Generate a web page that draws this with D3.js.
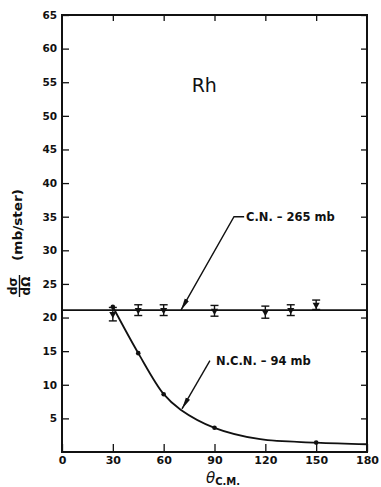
<!DOCTYPE html>
<html>
<head>
<meta charset="utf-8">
<script src="https://cdn.jsdelivr.net/npm/d3@7"></script>
<style>
  html, body { margin: 0; padding: 0; background: #fff; }
  svg { display: block; }
  .tick text { font-family: "DejaVu Sans", sans-serif; font-weight: bold; fill: #111; }
</style>
</head>
<body>
<svg id="chart" width="381" height="487"></svg>
<script>
// Angular distribution for Rh: compound-nucleus (C.N.) level and non-compound (N.C.N.) falloff
const xTicks = [0, 30, 60, 90, 120, 150, 180];
const yTicks = [5, 10, 15, 20, 25, 30, 35, 40, 45, 50, 55, 60, 65];

const cnAngles = [30, 45, 60, 90, 120, 135, 150];
const cnValues = [20.5, 21.1, 21.1, 21.0, 20.8, 21.1, 21.9];
const cnErrors = [1.0, 0.8, 0.8, 0.8, 0.9, 0.8, 0.7];
const cnLevel = 21.1;

const ncnAngles = [30, 45, 60, 90, 150];
const ncnValues = [21.6, 14.7, 8.6, 3.6, 1.4];

const ncnCurveAngles = [30, 45, 60, 70, 90, 117, 150, 180];
const ncnCurveValues = [21.6, 14.7, 8.6, 6.3, 3.6, 1.9, 1.4, 1.15];

const ink = "#111";
const svg = d3.select("#chart");
const margin = { left: 62, right: 14, top: 15, bottom: 35 };
const W = 381, H = 487;

const x = d3.scaleLinear().domain([0, 180]).range([margin.left, W - margin.right]);
const y = d3.scaleLinear().domain([0, 65]).range([H - margin.bottom, margin.top]);

// Axes with inward ticks
const gL = svg.append("g").attr("transform", `translate(${x(0)},0)`)
  .call(d3.axisLeft(y).tickValues(yTicks).tickSize(-7).tickPadding(5).tickFormat(d3.format("d")));
const gR = svg.append("g").attr("transform", `translate(${x(180)},0)`)
  .call(d3.axisRight(y).tickValues(yTicks).tickSize(-6).tickFormat(""));
const gB = svg.append("g").attr("transform", `translate(0,${y(0)})`)
  .call(d3.axisBottom(x).tickValues(xTicks).tickSize(-8).tickPadding(4).tickFormat(d3.format("d")));
const gT = svg.append("g").attr("transform", `translate(0,${y(65)})`)
  .call(d3.axisTop(x).tickValues(xTicks.slice(1, -1)).tickSize(-6).tickFormat(""));

[gL, gR, gB, gT].forEach(g => {
  g.select(".domain").remove();
  g.selectAll(".tick line").attr("stroke", ink).attr("stroke-width", 1.3);
});
gL.selectAll(".tick text").attr("font-size", 10.5);
gB.selectAll(".tick text").attr("font-size", 11).attr("font-weight", "normal");

// Frame
svg.append("rect")
  .attr("x", x(0)).attr("y", y(65))
  .attr("width", x(180) - x(0)).attr("height", y(0) - y(65))
  .attr("fill", "none").attr("stroke", ink).attr("stroke-width", 2);

// C.N. level
svg.append("line")
  .attr("x1", x(0)).attr("x2", x(180))
  .attr("y1", y(cnLevel)).attr("y2", y(cnLevel))
  .attr("stroke", ink).attr("stroke-width", 1.8);

// N.C.N. curve
const curvePts = ncnCurveAngles.map((a, i) => [a, ncnCurveValues[i]]);
svg.append("path")
  .attr("d", d3.line().x(d => x(d[0])).y(d => y(d[1])).curve(d3.curveCatmullRom.alpha(0.5))(curvePts))
  .attr("fill", "none").attr("stroke", ink).attr("stroke-width", 1.8);

// C.N. points with error bars
const cn = cnAngles.map((a, i) => ({ a, v: cnValues[i], e: cnErrors[i] }));
const eb = svg.append("g").attr("stroke", ink).attr("stroke-width", 1.4);
cn.forEach(d => {
  eb.append("line").attr("x1", x(d.a)).attr("x2", x(d.a))
    .attr("y1", y(d.v + d.e)).attr("y2", y(d.v - d.e));
  [d.v + d.e, d.v - d.e].forEach(v => {
    eb.append("line").attr("x1", x(d.a) - 4).attr("x2", x(d.a) + 4)
      .attr("y1", y(v)).attr("y2", y(v));
  });
});
svg.append("g").selectAll("path").data(cn).join("path")
  .attr("d", d3.symbol(d3.symbolTriangle, 22))
  .attr("transform", d => `translate(${x(d.a)},${y(d.v)}) rotate(180)`)
  .attr("fill", ink);

// N.C.N. points
svg.append("g").selectAll("circle").data(ncnAngles.map((a, i) => ({ a, v: ncnValues[i] })))
  .join("circle")
  .attr("cx", d => x(d.a)).attr("cy", d => y(d.v)).attr("r", 2.3)
  .attr("fill", ink);

// Arrowhead
svg.append("defs").append("marker")
  .attr("id", "arrow").attr("viewBox", "0 0 12 6").attr("refX", 12).attr("refY", 3)
  .attr("markerWidth", 12).attr("markerHeight", 6).attr("markerUnits", "userSpaceOnUse")
  .attr("orient", "auto")
  .append("path").attr("d", "M0,0.6 L12,3 L0,5.4 Z").attr("fill", ink);

// Annotations
const labelFont = "'DejaVu Sans', sans-serif";
svg.append("path")
  .attr("d", d3.line()([[x(107.5), y(35)], [x(101.5), y(35)], [x(70.2), y(cnLevel)]]))
  .attr("fill", "none").attr("stroke", ink).attr("stroke-width", 1.4)
  .attr("marker-end", "url(#arrow)");
svg.append("text").attr("x", x(108.6)).attr("y", y(34.4))
  .attr("font-family", labelFont).attr("font-weight", "bold").attr("font-size", 11.5)
  .attr("fill", ink).text("C.N. – 265 mb");

svg.append("path")
  .attr("d", d3.line()([[x(87.3), y(13.6)], [x(70.8), y(6.4)]]))
  .attr("fill", "none").attr("stroke", ink).attr("stroke-width", 1.4)
  .attr("marker-end", "url(#arrow)");
svg.append("text").attr("x", x(90.9)).attr("y", y(12.9))
  .attr("font-family", labelFont).attr("font-weight", "bold").attr("font-size", 11.5)
  .attr("fill", ink).text("N.C.N. – 94 mb");

svg.append("text").attr("x", x(76.5)).attr("y", y(53.5))
  .attr("font-family", labelFont).attr("font-size", 19)
  .attr("fill", ink).text("Rh");

// X axis title
const xt = svg.append("text").attr("x", 206).attr("y", 483).attr("fill", ink)
  .attr("font-family", labelFont);
xt.append("tspan").attr("font-style", "italic").attr("font-size", 15).text("θ");
xt.append("tspan").attr("font-weight", "bold").attr("font-size", 10).attr("dy", 1.5).text("C.M.");

// Y axis title: dσ/dΩ (mb/ster), rotated
const yt = svg.append("g").attr("transform", "translate(19.5,286) rotate(-90)");
yt.append("text").attr("x", 0).attr("y", -3).attr("text-anchor", "middle")
  .attr("font-family", labelFont).attr("font-weight", "bold").attr("font-size", 12)
  .attr("fill", ink).text("dσ");
yt.append("line").attr("x1", -11).attr("x2", 11).attr("y1", 0).attr("y2", 0)
  .attr("stroke", ink).attr("stroke-width", 1.4);
yt.append("text").attr("x", 0).attr("y", 10).attr("text-anchor", "middle")
  .attr("font-family", labelFont).attr("font-weight", "bold").attr("font-size", 12)
  .attr("fill", ink).text("dΩ");
svg.append("text").attr("transform", "translate(22,225) rotate(-90)")
  .attr("text-anchor", "middle")
  .attr("font-family", labelFont).attr("font-weight", "bold").attr("font-size", 12.5)
  .attr("textLength", 72).attr("lengthAdjust", "spacingAndGlyphs")
  .attr("fill", ink).text("(mb/ster)");
</script>
</body>
</html>
